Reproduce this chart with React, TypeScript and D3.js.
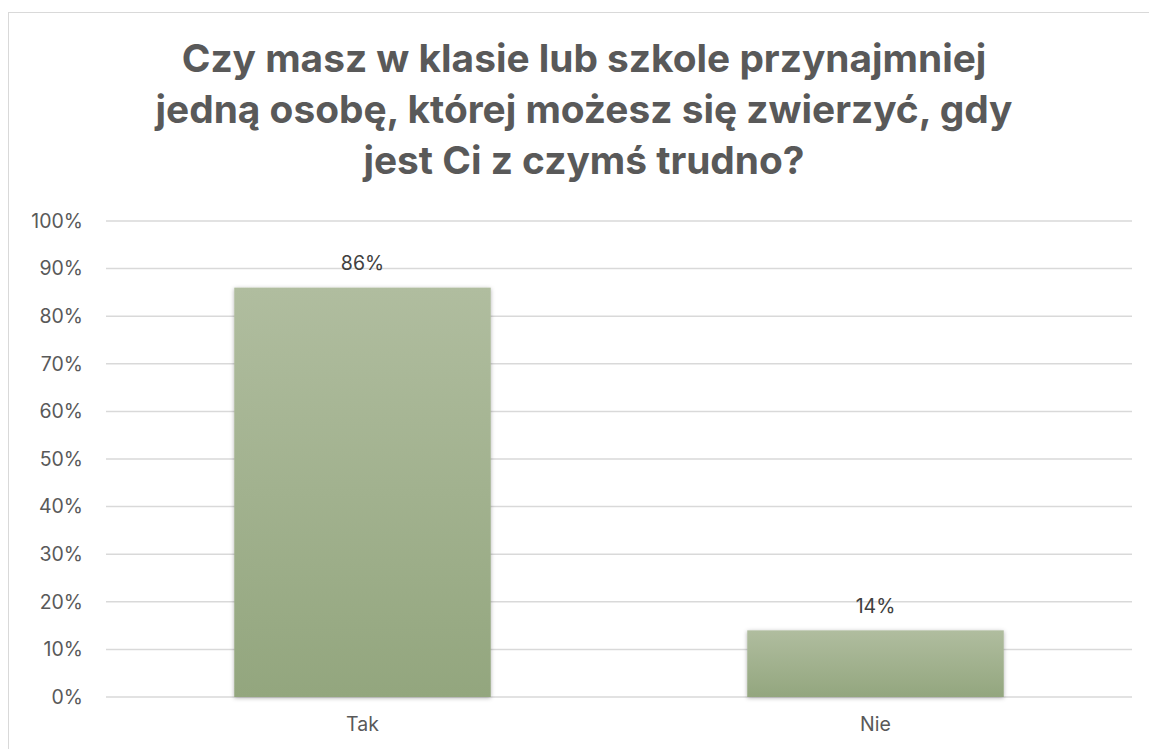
import React, { useEffect, useRef } from 'react';
import * as d3 from 'd3';

const categories = ['Tak', 'Nie'];
const shares = [0.86, 0.14];
const tickValues = [0, 0.1, 0.2, 0.3, 0.4, 0.5, 0.6, 0.7, 0.8, 0.9, 1];
const titleLines = [
    'Czy masz w klasie lub szkole przynajmniej',
    'jedną osobę, której możesz się zwierzyć, gdy',
    'jest Ci z czymś trudno?'
];

const App: React.FC = () => {
    const chartRef = useRef<SVGSVGElement>(null);

    useEffect(() => {
        if (!chartRef.current) return;
        document.body.style.margin = '0';
        document.body.style.overflow = 'hidden';

        const svg = d3.select(chartRef.current);
        svg.selectAll('*').remove();

        const width = 1149;
        const height = 749;
        const margin = { top: 221, right: 17, left: 106 };
        const plotRight = width - margin.right;
        const plotBottom = 697;
        const font = 'Inter, "Open Sans", "Liberation Sans", sans-serif';
        const textColor = '#595959';

        svg.attr('width', width).attr('height', height).style('display', 'block');

        // Chart frame (right and bottom edges run off the picture)
        svg.append('rect')
            .attr('x', 8.5)
            .attr('y', 12.5)
            .attr('width', width)
            .attr('height', height)
            .attr('fill', '#fff')
            .attr('stroke', '#d9d9d9')
            .attr('stroke-width', 1);

        const defs = svg.append('defs');
        const grad = defs.append('linearGradient')
            .attr('id', 'barGrad')
            .attr('x1', 0).attr('y1', 0).attr('x2', 0).attr('y2', 1);
        grad.append('stop').attr('offset', '0%').attr('stop-color', '#b0bd9f');
        grad.append('stop').attr('offset', '100%').attr('stop-color', '#93a67e');

        const shadow = defs.append('filter')
            .attr('id', 'barShadow')
            .attr('x', '-10%').attr('y', '-10%')
            .attr('width', '120%').attr('height', '120%');
        shadow.append('feDropShadow')
            .attr('dx', 0).attr('dy', 1)
            .attr('stdDeviation', 2)
            .attr('flood-color', '#000')
            .attr('flood-opacity', 0.3);

        // Title
        const title = svg.append('text')
            .attr('text-anchor', 'middle')
            .attr('font-family', font)
            .attr('font-weight', 'bold')
            .attr('font-size', '34px')
            .attr('fill', textColor);
        title.selectAll('tspan')
            .data(titleLines)
            .enter()
            .append('tspan')
            .attr('x', 584)
            .attr('y', (_, i) => 72 + i * 51)
            .text(d => d);

        // fit first line to ~805px like the original
        const first = title.select<SVGTSpanElement>('tspan').node();
        if (first) {
            const w = first.getComputedTextLength();
            if (w > 0) title.attr('font-size', `${(34 * 805 / w).toFixed(2)}px`);
        }

        const g = svg.append('g').attr('transform', `translate(${margin.left}, ${margin.top})`);

        const x = d3.scaleBand<string>()
            .domain(categories)
            .range([0, plotRight - margin.left])
            .paddingInner(0.5)
            .paddingOuter(0.25);

        const y = d3.scaleLinear()
            .domain([0, 1])
            .range([plotBottom - margin.top, 0]);

        // Gridlines
        g.selectAll('.grid')
            .data(tickValues)
            .enter()
            .append('line')
            .attr('x1', 0)
            .attr('x2', plotRight - margin.left)
            .attr('y1', d => y(d))
            .attr('y2', d => y(d))
            .attr('stroke', '#d9d9d9')
            .attr('stroke-width', 1.5);

        // Y-axis labels
        g.selectAll('.ytick')
            .data(tickValues)
            .enter()
            .append('text')
            .attr('x', -23)
            .attr('y', d => y(d))
            .attr('dy', '0.35em')
            .attr('text-anchor', 'end')
            .attr('font-family', font)
            .attr('font-size', '19.5px')
            .attr('fill', textColor)
            .text(d => `${Math.round(d * 100)}%`);

        // Bars
        g.selectAll('.bar')
            .data(categories)
            .enter()
            .append('rect')
            .attr('x', d => x(d) as number)
            .attr('y', (_, i) => y(shares[i]))
            .attr('width', x.bandwidth())
            .attr('height', (_, i) => y(0) - y(shares[i]))
            .attr('fill', 'url(#barGrad)')
            .attr('filter', 'url(#barShadow)');

        // Value labels
        g.selectAll('.label')
            .data(categories)
            .enter()
            .append('text')
            .attr('x', d => (x(d) as number) + x.bandwidth() / 2)
            .attr('y', (_, i) => y(shares[i]) - 24)
            .attr('dy', '0.35em')
            .attr('text-anchor', 'middle')
            .attr('font-family', font)
            .attr('font-size', '19.5px')
            .attr('fill', '#404040')
            .text((_, i) => `${Math.round(shares[i] * 100)}%`);

        // Category labels
        g.selectAll('.cat')
            .data(categories)
            .enter()
            .append('text')
            .attr('x', d => (x(d) as number) + x.bandwidth() / 2)
            .attr('y', y(0) + 27)
            .attr('dy', '0.35em')
            .attr('text-anchor', 'middle')
            .attr('font-family', font)
            .attr('font-size', '19.5px')
            .attr('fill', textColor)
            .text(d => d);
    }, []);

    return (
        <div>
            <svg ref={chartRef}></svg>
        </div>
    );
};

export default App;
